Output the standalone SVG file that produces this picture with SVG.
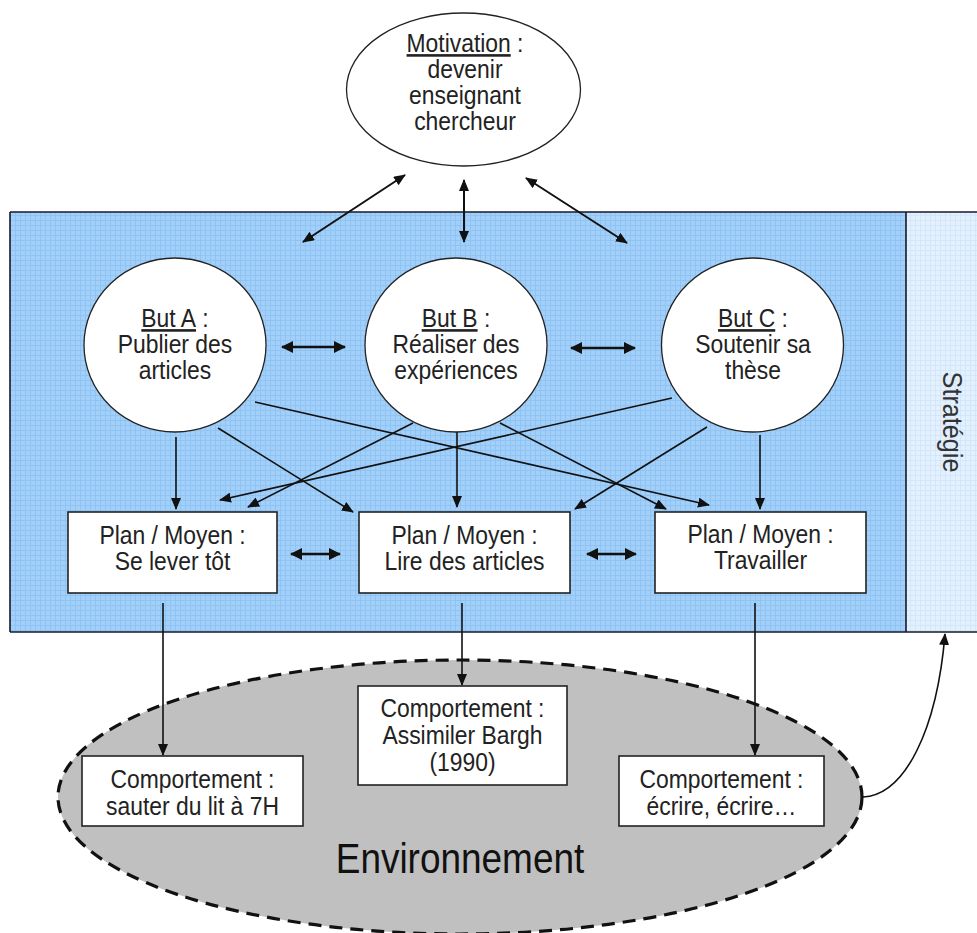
<svg xmlns="http://www.w3.org/2000/svg" width="977" height="933" viewBox="0 0 977 933">
  <style>
    .t { font-family: "Liberation Sans", Arial, sans-serif; font-size: 26px; fill: #222; text-anchor: middle; }
    .big { font-size: 42px; }
    .node { fill: #ffffff; stroke: #222; stroke-width: 1.3; }
    .box { fill: #ffffff; stroke: #222; stroke-width: 1.6; }
    .c { fill: none; stroke: #111; stroke-width: 1.6; marker-end: url(#ah); }
    .cc { fill: none; stroke: #111; stroke-width: 2; marker-start: url(#ah); marker-end: url(#ah); }
    .ch { fill: none; stroke: #111; stroke-width: 2.6; marker-start: url(#ahb); marker-end: url(#ahb); }
  </style>
  <defs>
    <marker id="ah" viewBox="0 0 12 10" refX="11" refY="5" markerWidth="12" markerHeight="10" markerUnits="userSpaceOnUse" orient="auto-start-reverse">
      <path d="M0,0 L12,5 L0,10 z" fill="#111"/>
    </marker>
    <marker id="ahb" viewBox="0 0 12 12" refX="11" refY="6" markerWidth="12" markerHeight="12" markerUnits="userSpaceOnUse" orient="auto-start-reverse">
      <path d="M0,0 L12,6 L0,12 z" fill="#111"/>
    </marker>
    <pattern id="grid" width="5" height="5" patternUnits="userSpaceOnUse">
      <rect width="5" height="5" fill="#a2d0fa"/>
      <path d="M0,0.5 H5 M0.5,0 V5" stroke="#8fc3f2" stroke-width="1"/>
    </pattern>
    <pattern id="gridL" width="5" height="5" patternUnits="userSpaceOnUse">
      <rect width="5" height="5" fill="#e3f0fd"/>
      <path d="M0,0.5 H5 M0.5,0 V5" stroke="#d3e6fa" stroke-width="1"/>
    </pattern>
  </defs>

  <rect width="977" height="933" fill="#ffffff"/>

  <g id="panel">
    <rect x="10" y="212" width="896" height="420" fill="url(#grid)"/>
    <rect x="906" y="212" width="75" height="420" fill="url(#gridL)"/>
    <path d="M10,212 H977 M10,632 H977 M10,212 V632 M906,212 V632" fill="none" stroke="#1a1a2a" stroke-width="1.6"/>
  </g>

  <g id="strategie">
    <text class="t" transform="translate(943,422) rotate(90) scale(0.9,1)" style="font-size:28px;fill:#333">Stratégie</text>
  </g>

  <g id="environnement">
    <ellipse cx="460" cy="797" rx="402" ry="137" fill="#c0c0c0" stroke="#111" stroke-width="3.2" stroke-dasharray="13 8"/>
    <text class="t big" transform="matrix(0.88 0 0 1 460 0)" x="0" y="873" style="fill:#111">Environnement</text>
  </g>

  <g id="connectors">
    <!-- motivation to goals -->
    <line class="cc" x1="405" y1="175" x2="303" y2="242"/>
    <line class="cc" x1="464" y1="180" x2="464" y2="242"/>
    <line class="cc" x1="526" y1="178" x2="627" y2="243"/>
    <!-- goal to goal -->
    <line class="ch" x1="282" y1="347" x2="345" y2="347"/>
    <line class="ch" x1="571" y1="348" x2="635" y2="348"/>
    <!-- goals to plans -->
    <line class="c" x1="176" y1="437" x2="176" y2="509"/>
    <line class="c" x1="218" y1="428" x2="353" y2="512"/>
    <line class="c" x1="255" y1="402" x2="709" y2="505"/>
    <line class="c" x1="457" y1="428" x2="457" y2="507"/>
    <line class="c" x1="413" y1="423" x2="248" y2="507"/>
    <line class="c" x1="500" y1="423" x2="666" y2="509"/>
    <line class="c" x1="672" y1="398" x2="220" y2="500"/>
    <line class="c" x1="707" y1="427" x2="575" y2="509"/>
    <line class="c" x1="760" y1="435" x2="760" y2="509"/>
    <!-- plan to plan -->
    <line class="ch" x1="291" y1="554" x2="340" y2="554"/>
    <line class="ch" x1="587" y1="554" x2="636" y2="554"/>
    <!-- plans to behaviours -->
    <line class="c" x1="163" y1="603" x2="163" y2="755"/>
    <line class="c" x1="462" y1="603" x2="462" y2="685"/>
    <line class="c" x1="755" y1="603" x2="755" y2="755"/>
    <!-- feedback to strategy -->
    <path class="c" d="M863,797 C905,795 937,730 945,634"/>
  </g>

  <g id="motivation">
    <ellipse class="node" cx="463.5" cy="89.5" rx="117" ry="76.5"/>
    <g transform="matrix(0.88 0 0 1 465 0)">
      <text class="t" x="0" y="52"><tspan text-decoration="underline">Motivation</tspan> :</text>
      <text class="t" x="0" y="78">devenir</text>
      <text class="t" x="0" y="104">enseignant</text>
      <text class="t" x="0" y="130">chercheur</text>
    </g>
  </g>

  <g id="butA">
    <ellipse class="node" cx="175" cy="345" rx="91" ry="87"/>
    <g transform="matrix(0.88 0 0 1 175 0)">
      <text class="t" x="0" y="327"><tspan text-decoration="underline">But A</tspan> :</text>
      <text class="t" x="0" y="353">Publier des</text>
      <text class="t" x="0" y="379">articles</text>
    </g>
  </g>

  <g id="butB">
    <ellipse class="node" cx="456" cy="345" rx="91" ry="87"/>
    <g transform="matrix(0.88 0 0 1 456 0)">
      <text class="t" x="0" y="327"><tspan text-decoration="underline">But B</tspan> :</text>
      <text class="t" x="0" y="353">Réaliser des</text>
      <text class="t" x="0" y="379">expériences</text>
    </g>
  </g>

  <g id="butC">
    <ellipse class="node" cx="752.5" cy="345" rx="91" ry="87"/>
    <g transform="matrix(0.88 0 0 1 753 0)">
      <text class="t" x="0" y="327"><tspan text-decoration="underline">But C</tspan> :</text>
      <text class="t" x="0" y="353">Soutenir sa</text>
      <text class="t" x="0" y="379">thèse</text>
    </g>
  </g>

  <g id="planA">
    <rect class="box" x="68" y="512" width="209" height="81"/>
    <g transform="matrix(0.88 0 0 1 172.5 0)">
      <text class="t" x="0" y="544">Plan / Moyen :</text>
      <text class="t" x="0" y="570">Se lever tôt</text>
    </g>
  </g>

  <g id="planB">
    <rect class="box" x="359" y="512" width="211" height="81"/>
    <g transform="matrix(0.88 0 0 1 464.5 0)">
      <text class="t" x="0" y="544">Plan / Moyen :</text>
      <text class="t" x="0" y="570">Lire des articles</text>
    </g>
  </g>

  <g id="planC">
    <rect class="box" x="655" y="512" width="211" height="81"/>
    <g transform="matrix(0.88 0 0 1 760.5 0)">
      <text class="t" x="0" y="543">Plan / Moyen :</text>
      <text class="t" x="0" y="569">Travailler</text>
    </g>
  </g>

  <g id="compA">
    <rect class="box" x="82" y="756" width="221" height="70"/>
    <g transform="matrix(0.88 0 0 1 192.5 0)">
      <text class="t" x="0" y="788">Comportement :</text>
      <text class="t" x="0" y="815">sauter du lit à 7H</text>
    </g>
  </g>

  <g id="compB">
    <rect class="box" x="358" y="686" width="209" height="99"/>
    <g transform="matrix(0.88 0 0 1 462.5 0)">
      <text class="t" x="0" y="717">Comportement :</text>
      <text class="t" x="0" y="744">Assimiler Bargh</text>
      <text class="t" x="0" y="771">(1990)</text>
    </g>
  </g>

  <g id="compC">
    <rect class="box" x="619" y="756" width="205" height="70"/>
    <g transform="matrix(0.88 0 0 1 721.5 0)">
      <text class="t" x="0" y="788">Comportement :</text>
      <text class="t" x="0" y="815">écrire, écrire…</text>
    </g>
  </g>
</svg>
